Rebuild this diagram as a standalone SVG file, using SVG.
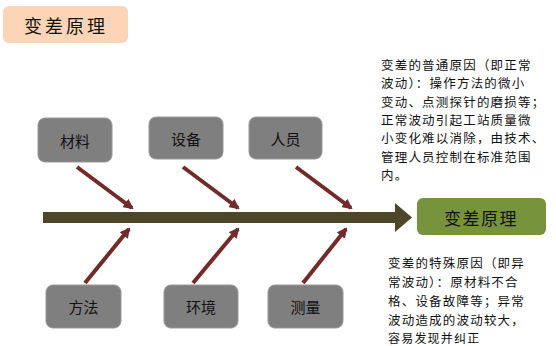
<svg xmlns="http://www.w3.org/2000/svg" width="556" height="346" viewBox="0 0 556 346">
<defs>
<style>
.cat rect{fill:#7F7F7F;stroke:#999;stroke-width:1}
.cat text{font-family:"Noto Sans CJK SC","Noto Sans",sans-serif;font-size:15px;fill:#111;text-anchor:middle;dominant-baseline:central}
.bone{stroke:#722B28;stroke-width:4;fill:none;marker-end:url(#ah)}
.note{font-family:"Noto Sans CJK SC","Noto Sans",sans-serif;font-size:12.5px;fill:#111;letter-spacing:1.2px}
</style>
<marker id="ah" viewBox="0 0 10 10" refX="8" refY="5" markerWidth="2.6" markerHeight="2.6" orient="auto" markerUnits="strokeWidth">
<path d="M0,0 L10,5 L0,10 z" fill="#722B28"/>
</marker>
</defs>
<rect width="556" height="346" fill="#fff"/>
<g id="title">
<rect x="3" y="6" width="125" height="37" rx="6" fill="#FBD5B5"/>
<text x="66" y="25" font-family="Noto Sans CJK SC,sans-serif" font-size="18" letter-spacing="3" text-anchor="middle" dominant-baseline="central" fill="#111">变差原理</text>
</g>
<g id="connectors">
<path d="M43,212 H395 V203 L412,217.5 L395,232 V223 H43 Z" fill="#4D4628"/>
<line class="bone" x1="77" y1="167" x2="132" y2="208"/>
<line class="bone" x1="183" y1="167" x2="238" y2="208"/>
<line class="bone" x1="296" y1="167" x2="351" y2="208"/>
<line class="bone" x1="85" y1="283" x2="129" y2="229"/>
<line class="bone" x1="193" y1="283" x2="238" y2="229"/>
<line class="bone" x1="303" y1="283" x2="346" y2="229"/>
</g>
<g id="result">
<rect x="417" y="198" width="129" height="37" rx="6" fill="#77933C"/>
<text x="481" y="217" font-family="Noto Sans CJK SC,sans-serif" font-size="17" letter-spacing="1.5" text-anchor="middle" dominant-baseline="central" fill="#111">变差原理</text>
</g>
<g id="n-cailiao" class="cat"><rect x="38" y="118" width="74" height="44" rx="7"/><text x="75" y="140">材料</text></g>
<g id="n-shebei" class="cat"><rect x="149" y="117" width="74" height="42" rx="7"/><text x="186" y="138">设备</text></g>
<g id="n-renyuan" class="cat"><rect x="249" y="117" width="73" height="42" rx="7"/><text x="285.5" y="138">人员</text></g>
<g id="n-fangfa" class="cat"><rect x="46" y="285" width="75" height="43" rx="7"/><text x="83.5" y="306.5">方法</text></g>
<g id="n-huanjing" class="cat"><rect x="164" y="285" width="74" height="43" rx="7"/><text x="201" y="306.5">环境</text></g>
<g id="n-celiang" class="cat"><rect x="268" y="285" width="75" height="43" rx="7"/><text x="305.5" y="306.5">测量</text></g>
<g id="note-common" class="note">
<text x="381" y="70">变差的普通原因（即正常</text>
<text x="381" y="88">波动）：操作方法的微小</text>
<text x="381" y="107">变动、点测探针的磨损等；</text>
<text x="381" y="125">正常波动引起工站质量微</text>
<text x="381" y="143">小变化难以消除，由技术、</text>
<text x="381" y="162">管理人员控制在标准范围</text>
<text x="381" y="180">内。</text>
</g>
<g id="note-special" class="note">
<text x="388" y="268">变差的特殊原因（即异</text>
<text x="388" y="287">常波动）：原材料不合</text>
<text x="388" y="306">格、设备故障等；异常</text>
<text x="388" y="325">波动造成的波动较大，</text>
<text x="388" y="343" font-size="12">容易发现并纠正</text>
</g>
</svg>
